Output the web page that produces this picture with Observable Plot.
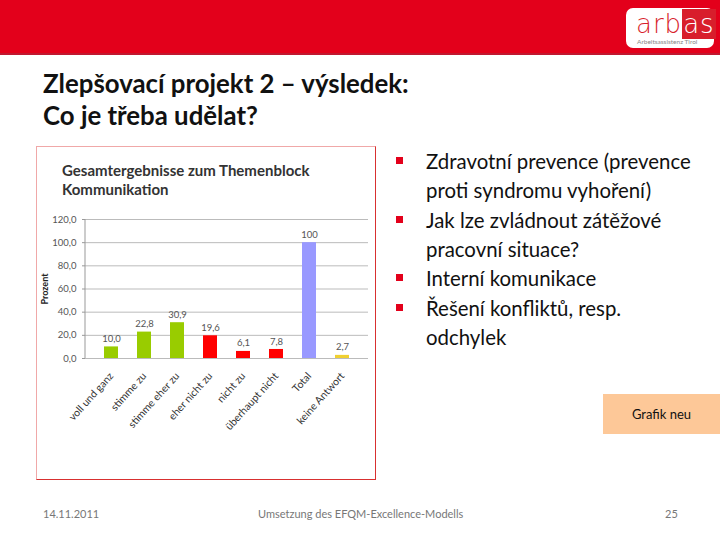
<!DOCTYPE html>
<html><head><meta charset="utf-8">
<script src="https://cdn.jsdelivr.net/npm/d3@7"></script>
<script src="https://cdn.jsdelivr.net/npm/@observablehq/plot@0.6"></script>
<style>
body{margin:0;width:720px;height:540px;position:relative;background:#fff;font-family:Lato,"Open Sans",sans-serif;overflow:hidden}
.abs{position:absolute}
#banner{left:0;top:0;width:720px;height:53px;background:#e3001b;border-bottom:2px solid #c01830}
#logo{left:626px;top:8px;width:88px;height:40px;background:#fff;border-radius:7px}
#title{left:43px;top:67px;font-size:25.8px;font-weight:bold;line-height:32px;color:#111;white-space:nowrap}
#box{left:36px;top:146px;width:340px;height:334px;border:1px solid #f0a8a8;border-right-color:#d83030;border-bottom-color:#d83030;box-sizing:border-box}
#ctitle{left:62px;top:161px;font-size:15px;font-weight:bold;line-height:19px;color:#333;white-space:nowrap}
#bul{left:396px;top:147px;font-size:20.4px;line-height:29px;color:#111;white-space:nowrap}
#bul div{position:relative;padding-left:30px;margin-bottom:0.5px}
#bul div span.sq{position:absolute;left:0;top:10px;width:7px;height:7px;background:#e3001b}
#grafik{left:603px;top:394px;width:117px;height:40px;background:#fdc898;font-size:13px;line-height:40px;text-align:center;color:#111}
.foot{top:507px;font-size:11px;color:#777}
</style></head><body>
<div id="banner" class="abs"></div>
<div id="logo" class="abs">
  <div class="abs" style="left:10px;top:3px;font-size:26px;line-height:26px;color:#d81e2c;font-family:'DejaVu Sans',sans-serif;font-weight:300;letter-spacing:1px">arb<span style="background:#d81e2c;color:#fff;padding:0 1px">as</span></div>
  <div class="abs" style="left:11px;top:30px;font-size:6.5px;color:#888;white-space:nowrap">Arbeitsassistenz Tirol</div>
</div>
<div id="title" class="abs">Zlepšovací projekt 2 – výsledek:<br>Co je třeba udělat?</div>
<div id="box" class="abs"></div>
<div id="ctitle" class="abs">Gesamtergebnisse zum Themenblock<br>Kommunikation</div>
<div id="chart" class="abs" style="left:37px;top:200px"></div>
<div id="bul" class="abs">
  <div><span class="sq"></span>Zdravotní prevence (prevence<br>proti syndromu vyhoření)</div>
  <div><span class="sq"></span>Jak lze zvládnout zátěžové<br>pracovní situace?</div>
  <div><span class="sq"></span>Interní komunikace</div>
  <div><span class="sq"></span>Řešení konfliktů, resp.<br>odchylek</div>
</div>
<div id="grafik" class="abs">Grafik neu</div>
<div class="abs foot" style="left:43px">14.11.2011</div>
<div class="abs foot" style="left:258px">Umsetzung des EFQM-Excellence-Modells</div>
<div class="abs foot" style="left:665px">25</div>
<script>
const categories = ["voll und ganz","stimme zu","stimme eher zu","eher nicht zu","nicht zu","überhaupt nicht","Total","keine Antwort"];
const values = [10.0, 22.8, 30.9, 19.6, 6.1, 7.8, 100, 2.7];
const valueLabels = ["10,0","22,8","30,9","19,6","6,1","7,8","100","2,7"];
const groups = ["agree","agree","agree","disagree","disagree","disagree","total","none"];
const yTicks = [0,20,40,60,80,100,120];
const data = categories.map((c,i)=>({cat:c, v:values[i], label:valueLabels[i], g:groups[i]}));
const fmt = d => d.toFixed(1).replace(".", ",");
const plot = Plot.plot({
  width: 339, height: 278,
  marginTop: 19, marginBottom: 120, marginLeft: 48, marginRight: 8,
  style: {fontFamily: "Lato, sans-serif", fontSize: "9px", color: "#444", background: "transparent"},
  x: {domain: categories, padding: 0.57, label: null},
  y: {domain: [0,120], label: null},
  color: {domain: ["agree","disagree","total","none"], range: ["#99cc00","#ff0000","#9999ff","#f0d030"]},
  marks: [
    Plot.gridY(yTicks, {stroke: "#bbb", strokeOpacity: 1}),
    Plot.axisY(yTicks, {tickFormat: fmt, tickSize: 3, stroke: "#999", fill: "#555", fontSize: 9.5, label: null}),
    Plot.axisX({tickSize: 0, tickRotate: -48, fill: "#333", fontSize: 10.5, label: null, textAnchor: "end", dy: 4}),
    Plot.barY(data, {x: "cat", y: "v", fill: "g"}),
    Plot.text(data, {x: "cat", y: "v", text: "label", dy: -8, fill: "#555", fontSize: 9.5}),
    Plot.text(["Prozent"], {frameAnchor: "left", textAnchor: "middle", dx: -40, dy: 0, rotate: -90, fontSize: 9, fontWeight: "bold", fill: "#222"})
  ]
});
document.getElementById("chart").appendChild(plot);
d3.select(plot).append("line").attr("x1",48).attr("x2",48).attr("y1",19).attr("y2",158).attr("stroke","#999");
</script>
</body></html>
